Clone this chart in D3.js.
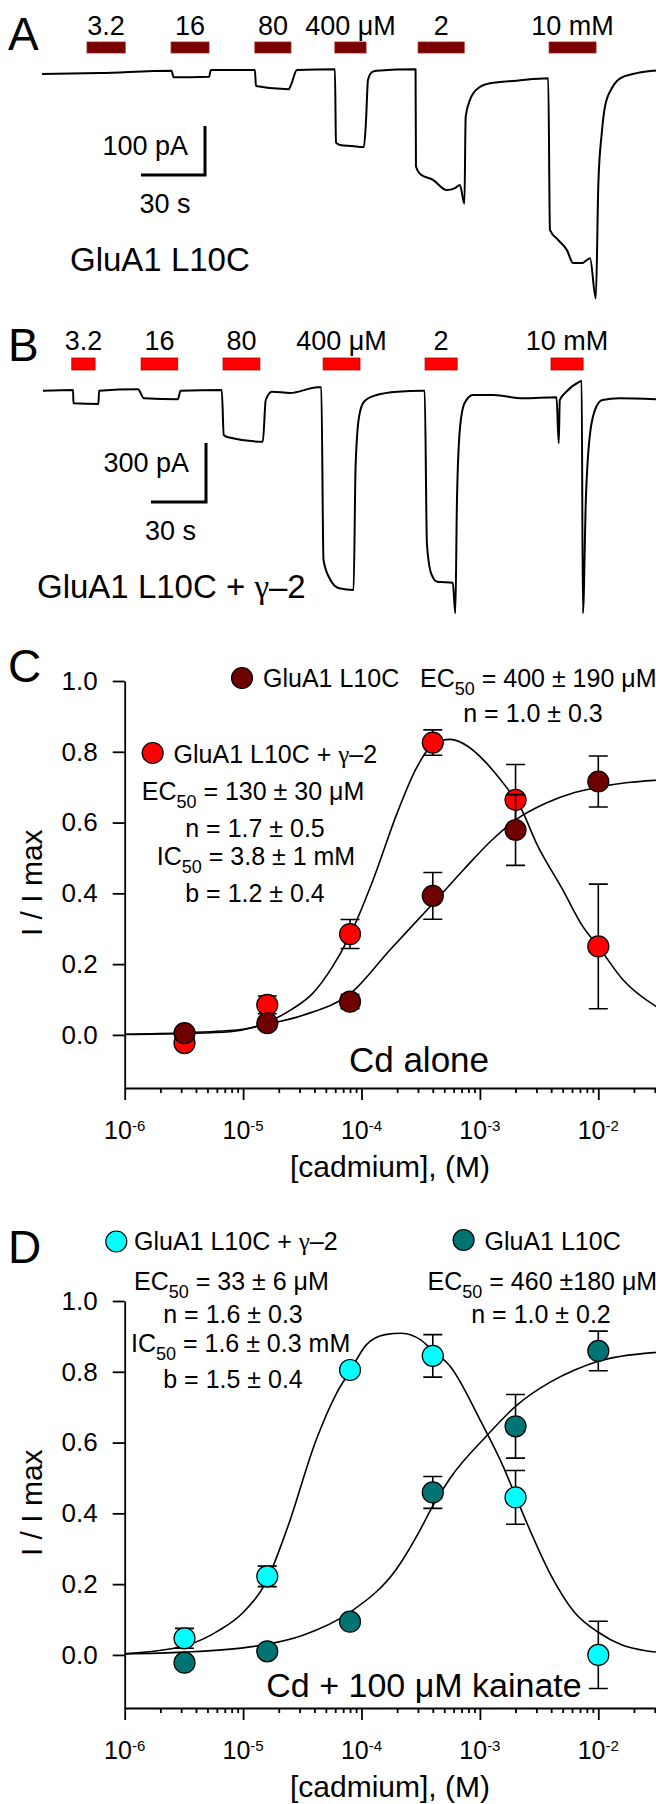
<!DOCTYPE html>
<html>
<head>
<meta charset="utf-8">
<script src="https://cdn.jsdelivr.net/npm/d3@7"></script>
<style>
  body { margin: 0; background: #fff; }
  text { font-family: "Liberation Sans", Arial, sans-serif; fill: #000; }
</style>
</head>
<body>
<div id="container"></div>
<script>
const width = 656;
const height = 1804;

// stimulus labels and application windows (s)
const stimLabels = ["3.2", "16", "80", "400 μM", "2", "10 mM"];
const barsA = [[21.1, 39], [60.5, 78.3], [99.8, 116.7], [137.3, 151.9], [176.3, 197.9], [237.7, 259.7]];
const barsB = [[15.7, 28.4], [53.5, 73.5], [98.2, 118.3], [152.8, 172.9], [208.4, 225.9], [277.1, 294.6]];

// current traces: [time (s), current (pA)]
const traceA = [[0, -4], [27.2, -2], [60.7, 2.7], [61.7, -10.8], [78.3, -9.6], [79.2, 4.1], [99.8, 4.1], [100.3, -28.6],
  [115.6, -35.3], [116.7, -26.5], [119.5, 4.1], [137.3, 5.5], [137.8, -144.3], [139.7, -149], [145.3, -151], [150.9, -153],
  [151.9, -98], [152.8, -16.3], [154.7, 0], [156.8, 2.7], [175.1, 5.5], [175.3, -193], [177.2, -208], [183.3, -220],
  [189.7, -241], [193.6, -237], [195.9, -230.6], [198, -269], [198.6, -91], [200.6, -57], [204.4, -33], [210, -23],
  [222.5, -17.8], [237.3, -12.9], [238.1, -322], [242, -343], [246, -363], [249, -390], [253, -390], [256.9, -380],
  [259.6, -462], [260.8, -226.5], [262.4, -124.5], [263.9, -70.8], [267.1, -33.3], [271, -12.9], [277, -4.1],
  [286.6, 2.7], [289.7, 4]];
const traceB = [[0, -3.6], [16.4, 0], [16.6, -67.6], [30.2, -71.2], [30.6, -3.6], [51.8, 3.6], [55.1, -42.2], [73.5, -47.3],
  [75.1, -3.6], [97.5, 0], [98.6, -228.8], [100.9, -240.5], [119.9, -262.8], [121.5, -50.8], [124.9, -8.6], [134.8, -15.3],
  [150, 13.7], [151.8, 13.7], [153, -864.3], [156.8, -966], [161.5, -1008], [169.4, -1017], [170.5, -390], [172.4, -135.7],
  [175.1, -59.5], [182, -25.4], [193.4, -8.6], [207.1, -3.6], [208.2, -3.6], [209.4, -779.4], [211.7, -932], [215.1, -974.6],
  [223.5, -979.7], [224.9, -1135], [225.8, -559.2], [227.5, -186.6], [229.9, -67.6], [234.5, -25.4], [245.9, -25.4],
  [261.9, -42.2], [280.1, -37.1], [281.3, -271], [281.9, -50.8], [285.3, -10.2], [292.7, 42.2], [293.8, 47.3],
  [294.5, -1135], [296.1, -559.2], [298.4, -220.1], [301.8, -84.9], [305.2, -50.8], [314.3, -42.2], [334.4, -47.3]];

// dose-response: concentrations (M), means and SEM
const concs = [3.2e-6, 1.6e-5, 8e-5, 4e-4, 2e-3, 1e-2];
const cdL10C = [0.005, 0.033, 0.094, 0.393, 0.579, 0.716];
const cdL10CErr = [0.01, 0.01, 0.02, 0.066, 0.10, 0.072];
const cdG2 = [-0.023, 0.085, 0.285, 0.826, 0.664, 0.25];
const cdG2Err = [0.012, 0.025, 0.041, 0.036, 0.10, 0.176];
const kaL10C = [-0.022, 0.01, 0.094, 0.459, 0.646, 0.859];
const kaL10CErr = [0.01, 0.01, 0.01, 0.045, 0.09, 0.056];
const kaG2 = [0.047, 0.222, 0.805, 0.845, 0.445, 0.0];
const kaG2Err = [0.028, 0.029, 0.01, 0.06, 0.076, 0.095];

// fitted curves: [log10 conc, I/Imax]
const fitCdL10C = [[-6, 0.002], [-5.5, 0.006], [-5, 0.016], [-4.8, 0.03], [-4.5, 0.055], [-4.09, 0.118], [-3.76, 0.24],
  [-3.4, 0.37], [-3.14, 0.466], [-2.9, 0.55], [-2.7, 0.607], [-2.44, 0.655], [-2.2, 0.685], [-2, 0.70], [-1.75, 0.713],
  [-1.5, 0.72], [-1, 0.727]];
const fitCdG2 = [[-6, 0.001], [-5.5, 0.004], [-5.11, 0.009], [-4.8, 0.035], [-4.6, 0.07], [-4.41, 0.118], [-4.25, 0.19],
  [-4.1, 0.28], [-3.9, 0.44], [-3.7, 0.626], [-3.53, 0.758], [-3.4, 0.82], [-3.25, 0.835], [-3.1, 0.815], [-2.95, 0.77],
  [-2.8, 0.71], [-2.66, 0.645], [-2.52, 0.54], [-2.3, 0.41], [-2.13, 0.306], [-2, 0.25], [-1.79, 0.155], [-1.51, 0.08],
  [-1.2, 0.035]];
const fitKaL10C = [[-6, 0.003], [-5.5, 0.008], [-5, 0.02], [-4.8, 0.03], [-4.5, 0.055], [-4.1, 0.12], [-3.7, 0.245],
  [-3.51, 0.35], [-3.4, 0.42], [-3.25, 0.5], [-2.94, 0.62], [-2.69, 0.705], [-2.41, 0.77], [-2.2, 0.805], [-2, 0.83],
  [-1.5, 0.855], [-1, 0.862]];
const fitKaG2 = [[-6, 0.003], [-5.5, 0.025], [-5.2, 0.07], [-5, 0.12], [-4.8, 0.21], [-4.63, 0.355], [-4.38, 0.61],
  [-4.21, 0.74], [-4.1, 0.8], [-3.96, 0.876], [-3.8, 0.905], [-3.66, 0.909], [-3.5, 0.89], [-3.4, 0.86], [-3.25, 0.815],
  [-3, 0.665], [-2.8, 0.53], [-2.7, 0.45], [-2.6, 0.37], [-2.4, 0.225], [-2.2, 0.12], [-2, 0.064], [-1.8, 0.028],
  [-1.6, 0.012], [-1.3, 0.004]];

const decades = [1e-6, 1e-5, 1e-4, 1e-3, 1e-2, 1e-1];
const decadeLabels = [1e-6, 1e-5, 1e-4, 1e-3, 1e-2];
const yTicks = [0, 0.2, 0.4, 0.6, 0.8, 1.0];

const svg = d3.select("#container")
              .append("svg")
              .attr("width", width)
              .attr("height", height)
              .style("display", "block");
svg.append("rect").attr("width", width).attr("height", height).attr("fill", "#fff");

const gammaText = (sel, before) => {
  sel.append("tspan").text(before);
  sel.append("tspan").style("font-family", "'Liberation Serif', 'DejaVu Serif', serif").text("γ");
  sel.append("tspan").text("–2");
};

const panelLetter = (letter, y) => {
  svg.append("text").attr("x", 8).attr("y", y).style("font-size", "46px").text(letter);
};

// ---------- trace panels ----------
const drawTrace = (o) => {
  const x = d3.scaleLinear().domain([0, 30]).range([o.x0, o.x0 + o.px30]);
  const y = d3.scaleLinear().domain([0, -o.pA]).range([o.y0, o.y0 + o.pxI]);
  const g = svg.append("g");

  g.selectAll("rect.stim")
   .data(o.bars)
   .enter()
   .append("rect")
   .attr("x", d => x(d[0]))
   .attr("width", d => x(d[1]) - x(d[0]))
   .attr("y", o.barY)
   .attr("height", o.barH)
   .attr("fill", o.barFill)
   .attr("stroke", o.barStroke)
   .attr("stroke-width", 0.8);
  g.selectAll("text.stim")
   .data(o.bars)
   .enter()
   .append("text")
   .attr("x", d => (x(d[0]) + x(d[1])) / 2)
   .attr("y", o.labelY)
   .attr("text-anchor", "middle")
   .style("font-size", "27px")
   .text((d, i) => stimLabels[i]);

  g.append("path")
   .datum(o.trace)
   .attr("fill", "none")
   .attr("stroke", "#000")
   .attr("stroke-width", 2)
   .attr("stroke-linejoin", "round")
   .attr("d", d3.line().x(d => x(d[0])).y(d => y(d[1])).curve(d3.curveMonotoneX));

  // scale bar
  const sx = o.sbX, sy = o.sbY;
  const w = x(30) - x(0), h = y(-o.pA) - y(0);
  g.append("path")
   .attr("d", `M${sx - w},${sy}H${sx}V${sy - h}`)
   .attr("fill", "none")
   .attr("stroke", "#000")
   .attr("stroke-width", 3);
  g.append("text").attr("x", sx - 17).attr("y", sy - h + 29).attr("text-anchor", "end")
   .style("font-size", "27px").text(o.pA + " pA");
  g.append("text").attr("x", sx - w / 2 - 8).attr("y", sy + 38).attr("text-anchor", "middle")
   .style("font-size", "27px").text("30 s");
};

panelLetter("A", 50);
drawTrace({x0: 42, px30: 64, y0: 72, pA: 100, pxI: 49, trace: traceA, bars: barsA,
           barY: 42, barH: 11, labelY: 35, barFill: "#7a0000", barStroke: "#9a2020", sbX: 205, sbY: 175});
svg.append("text").attr("x", 70).attr("y", 271).style("font-size", "33px").text("GluA1 L10C");

panelLetter("B", 361);
drawTrace({x0: 43, px30: 55, y0: 390, pA: 300, pxI: 59, trace: traceB, bars: barsB,
           barY: 358, barH: 12, labelY: 350, barFill: "#ff0000", barStroke: "#b00000", sbX: 206, sbY: 502});
svg.append("text").attr("x", 37).attr("y", 598).style("font-size", "33px").call(gammaText, "GluA1 L10C + ");

// ---------- dose-response panels ----------
const x = d3.scaleLog().domain([1e-6, 1e-1]).range([124.7, 716.7]);
const minors = [];
decades.slice(0, -1).forEach(d => { for (let k = 2; k <= 9; k++) minors.push(d * k); });

const drawDose = (o) => {
  const y = d3.scaleLinear().domain([-0.15, 1.0]).range([o.yBottom, o.yBottom - 407]);
  const g = svg.append("g");

  g.append("g")
   .attr("transform", `translate(0,${o.yBottom})`)
   .call(d3.axisBottom(x).tickValues(decades).tickSize(12).tickSizeOuter(0).tickFormat(""));
  g.append("g")
   .attr("transform", `translate(0,${o.yBottom})`)
   .call(d3.axisBottom(x).tickValues(minors).tickSize(5).tickSizeOuter(0).tickFormat(""))
   .call(s => s.select(".domain").remove());
  g.selectAll("path, line").attr("stroke", "#000").attr("stroke-width", 1.8);

  const lab = g.selectAll("text.xt")
               .data(decadeLabels)
               .enter()
               .append("text")
               .attr("x", d => x(d))
               .attr("y", o.yBottom + 51)
               .attr("text-anchor", "middle")
               .style("font-size", "25px");
  lab.append("tspan").text("10");
  lab.append("tspan").attr("dy", -8).style("font-size", "15px").text(d => Math.round(Math.log10(d)));

  g.append("text")
   .attr("x", 390)
   .attr("y", o.yBottom + 89)
   .attr("text-anchor", "middle")
   .style("font-size", "30px")
   .text("[cadmium], (M)");

  const yAxis = g.append("g")
                 .attr("transform", "translate(124.7,0)")
                 .call(d3.axisLeft(y).tickValues(yTicks).tickSize(12).tickPadding(15).tickSizeOuter(0).tickFormat(d3.format(".1f")));
  yAxis.selectAll("path, line").attr("stroke", "#000").attr("stroke-width", 1.8);
  yAxis.selectAll("text").style("font-size", "26px").style("font-family", "'Liberation Sans', Arial, sans-serif").attr("fill", "#000");

  g.append("text")
   .attr("transform", `translate(42,${y(0.43)}) rotate(-90)`)
   .attr("text-anchor", "middle")
   .style("font-size", "30px")
   .text("I / I max");

  const line = d3.line().x(d => x(Math.pow(10, d[0]))).y(d => y(d[1])).curve(d3.curveMonotoneX);
  const clip = "clip-" + o.id;
  g.append("clipPath").attr("id", clip).append("rect")
   .attr("x", 124.7).attr("y", y(1.05)).attr("width", 600).attr("height", y(-0.15) - y(1.05));
  o.series.forEach(s => {
    g.append("path")
     .datum(s.fit)
     .attr("clip-path", `url(#${clip})`)
     .attr("fill", "none")
     .attr("stroke", "#000")
     .attr("stroke-width", 1.6)
     .attr("d", line);
  });

  o.series.forEach(s => {
    const pts = concs.map((c, i) => ({c: c, v: s.values[i], e: s.errors[i]}));
    g.selectAll(null)
     .data(pts)
     .enter()
     .append("path")
     .attr("fill", "none")
     .attr("stroke", "#000")
     .attr("stroke-width", 1.6)
     .attr("d", d => {
       const cx = x(d.c), t = y(d.v + d.e), b = y(d.v - d.e);
       return `M${cx - 9.5},${t}H${cx + 9.5}M${cx},${t}V${b}M${cx - 9.5},${b}H${cx + 9.5}`;
     });
    g.selectAll(null)
     .data(pts)
     .enter()
     .append("circle")
     .attr("cx", d => x(d.c))
     .attr("cy", d => y(d.v))
     .attr("r", 10.5)
     .attr("fill", s.color)
     .attr("stroke", "#000")
     .attr("stroke-width", 1.2);
  });
};

const subText = (sel, head, tail) => {
  sel.append("tspan").text(head);
  sel.append("tspan").attr("dy", 8).style("font-size", "18px").text("50");
  sel.append("tspan").attr("dy", -8).text(tail);
};
const legText = (x0, y0, anchor) => svg.append("text").attr("x", x0).attr("y", y0)
                                      .attr("text-anchor", anchor).style("font-size", "25px");
const legDot = (cx, cy, color) => svg.append("circle").attr("cx", cx).attr("cy", cy).attr("r", 10.5)
                                    .attr("fill", color).attr("stroke", "#000").attr("stroke-width", 1.2);

// panel C
panelLetter("C", 682);
drawDose({id: "c", yBottom: 1088, series: [
  {values: cdG2, errors: cdG2Err, fit: fitCdG2, color: "#ff0000"},
  {values: cdL10C, errors: cdL10CErr, fit: fitCdL10C, color: "#6e0000"}
]});
legDot(242, 678, "#6e0000");
legText(263, 687, "start").text("GluA1 L10C");
legText(420, 687, "start").call(subText, "EC", " = 400 ± 190 μM");
legText(533, 722, "middle").text("n = 1.0 ± 0.3");
legDot(152.7, 753, "#ff0000");
legText(173.6, 763, "start").call(gammaText, "GluA1 L10C + ");
legText(253, 800, "middle").call(subText, "EC", " = 130 ± 30 μM");
legText(255, 837, "middle").text("n = 1.7 ± 0.5");
legText(256, 865, "middle").call(subText, "IC", " = 3.8 ± 1 mM");
legText(255, 902, "middle").text("b = 1.2 ± 0.4");
svg.append("text").attr("x", 419).attr("y", 1072).attr("text-anchor", "middle")
   .style("font-size", "35px").text("Cd alone");

// panel D
panelLetter("D", 1263);
drawDose({id: "d", yBottom: 1708, series: [
  {values: kaL10C, errors: kaL10CErr, fit: fitKaL10C, color: "#007373"},
  {values: kaG2, errors: kaG2Err, fit: fitKaG2, color: "#00ffff"}
]});
legDot(116.3, 1241.5, "#00ffff");
legText(134, 1250, "start").call(gammaText, "GluA1 L10C + ");
legDot(463.6, 1240, "#007373");
legText(484.5, 1250, "start").text("GluA1 L10C");
legText(134, 1290, "start").call(subText, "EC", " = 33 ± 6 μM");
legText(233, 1323, "middle").text("n = 1.6 ± 0.3");
legText(240.6, 1352, "middle").call(subText, "IC", " = 1.6 ± 0.3 mM");
legText(233, 1388, "middle").text("b = 1.5 ± 0.4");
legText(427.6, 1290, "start").call(subText, "EC", " = 460 ±180 μM");
legText(541, 1323, "middle").text("n = 1.0 ± 0.2");
svg.append("text").attr("x", 424).attr("y", 1697).attr("text-anchor", "middle")
   .style("font-size", "34px").text("Cd + 100 μM kainate");
</script>
</body>
</html>
